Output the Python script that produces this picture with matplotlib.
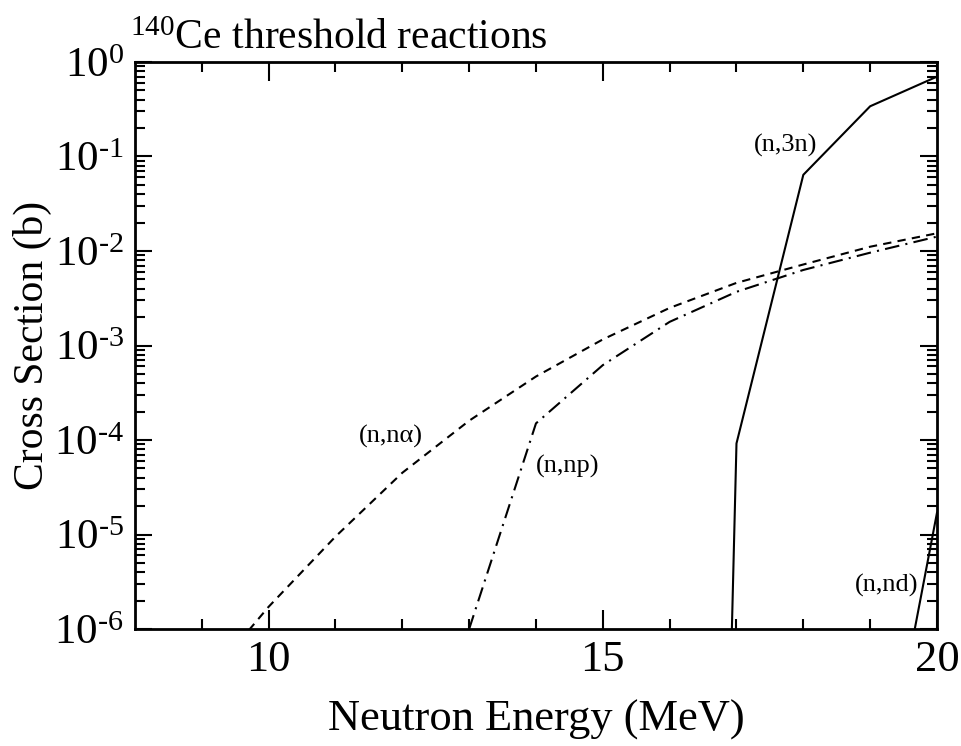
import matplotlib
matplotlib.use("Agg")
import matplotlib.pyplot as plt
from matplotlib.ticker import FixedLocator, LogLocator, NullFormatter

plt.rcParams['font.family'] = ['Liberation Serif', 'DejaVu Serif']
plt.rcParams['mathtext.fontset'] = 'stix'
plt.rcParams['axes.unicode_minus'] = False

# values (energy in MeV, cross section in b)
e_n3n = [16.9, 17.0, 18.0, 19.0, 20.0]
xs_n3n = [1.3e-7, 9.2e-5, 6.4e-2, 3.4e-1, 7.0e-1]

e_nna = [9.0, 10.0, 11.0, 12.0, 13.0, 14.0, 15.0, 16.0, 17.0, 18.0, 19.0, 20.0]
xs_nna = [2.5e-7, 1.72e-6, 9.5e-6, 4.5e-5, 1.6e-4, 4.7e-4, 1.16e-3,
          2.5e-3, 4.6e-3, 7.2e-3, 1.11e-2, 1.54e-2]

e_nnp = [13.0, 14.0, 15.0, 16.0, 17.0, 18.0, 19.0, 20.0]
xs_nnp = [1.0e-6, 1.5e-4, 6.2e-4, 1.78e-3, 3.7e-3, 6.3e-3, 9.6e-3, 1.42e-2]

e_nnd = [19.0, 20.0]
xs_nnd = [3.4e-9, 1.7e-5]

labels = ["(n,3n)", "(n,nα)", "(n,np)", "(n,nd)"]
label_pos = [(17.73, 1.3e-1), (11.83, 1.1e-4), (14.48, 5.2e-5), (19.25, 2.9e-6)]

fig = plt.figure(figsize=(9.62, 7.46), dpi=100)
ax = fig.add_axes([0.1403, 0.1568, 0.8337, 0.7601])

ax.plot(e_n3n, xs_n3n, color="black", lw=1.5, ls="-")
ax.plot(e_nna, xs_nna, color="black", lw=1.5, ls=(0, (4, 3)))
ax.plot(e_nnp, xs_nnp, color="black", lw=1.5, ls=(0, (7, 3, 1, 3)))
ax.plot(e_nnd, xs_nnd, color="black", lw=1.5, ls="-")

ax.set_yscale("log")
ax.set_xlim(8, 20)
ax.set_ylim(1e-6, 1)

for txt, (x, y) in zip(labels, label_pos):
    ax.text(x, y, txt, fontsize=19, ha="center", va="center")

# ticks
ax.xaxis.set_major_locator(FixedLocator([10, 15, 20]))
ax.xaxis.set_minor_locator(FixedLocator([9, 11, 12, 13, 14, 16, 17, 18, 19]))
ax.yaxis.set_minor_locator(LogLocator(base=10, subs=range(2, 10), numticks=20))
ax.yaxis.set_minor_formatter(NullFormatter())
ax.set_yticks([10.0 ** k for k in range(-6, 1)])
ax.set_yticklabels([r"$\mathregular{10^{%s}}$" % str(k).replace("-", "\u2010")
                    for k in range(-6, 1)])
ax.set_xticklabels(["10", "15", "20"])

ax.tick_params(which="both", direction="in", top=True, right=True, width=1.5)
ax.tick_params(which="major", length=14)
ax.tick_params(which="minor", length=7)
ax.tick_params(axis="y", which="major", length=12, labelsize=31, pad=8)
ax.tick_params(axis="x", which="major", labelsize=32, pad=8)
for s in ax.spines.values():
    s.set_linewidth(2)

ax.set_xlabel("Neutron Energy (MeV)", fontsize=32, labelpad=14)
ax.set_ylabel("Cross Section (b)", fontsize=30)
ax.yaxis.set_label_coords(-0.104, 0.5)

fig.text(130 / 962, 1 - 49 / 746, r"$\mathregular{^{140}}$Ce threshold reactions",
         fontsize=30, ha="left", va="baseline")

fig.savefig("out.png", dpi=100)
